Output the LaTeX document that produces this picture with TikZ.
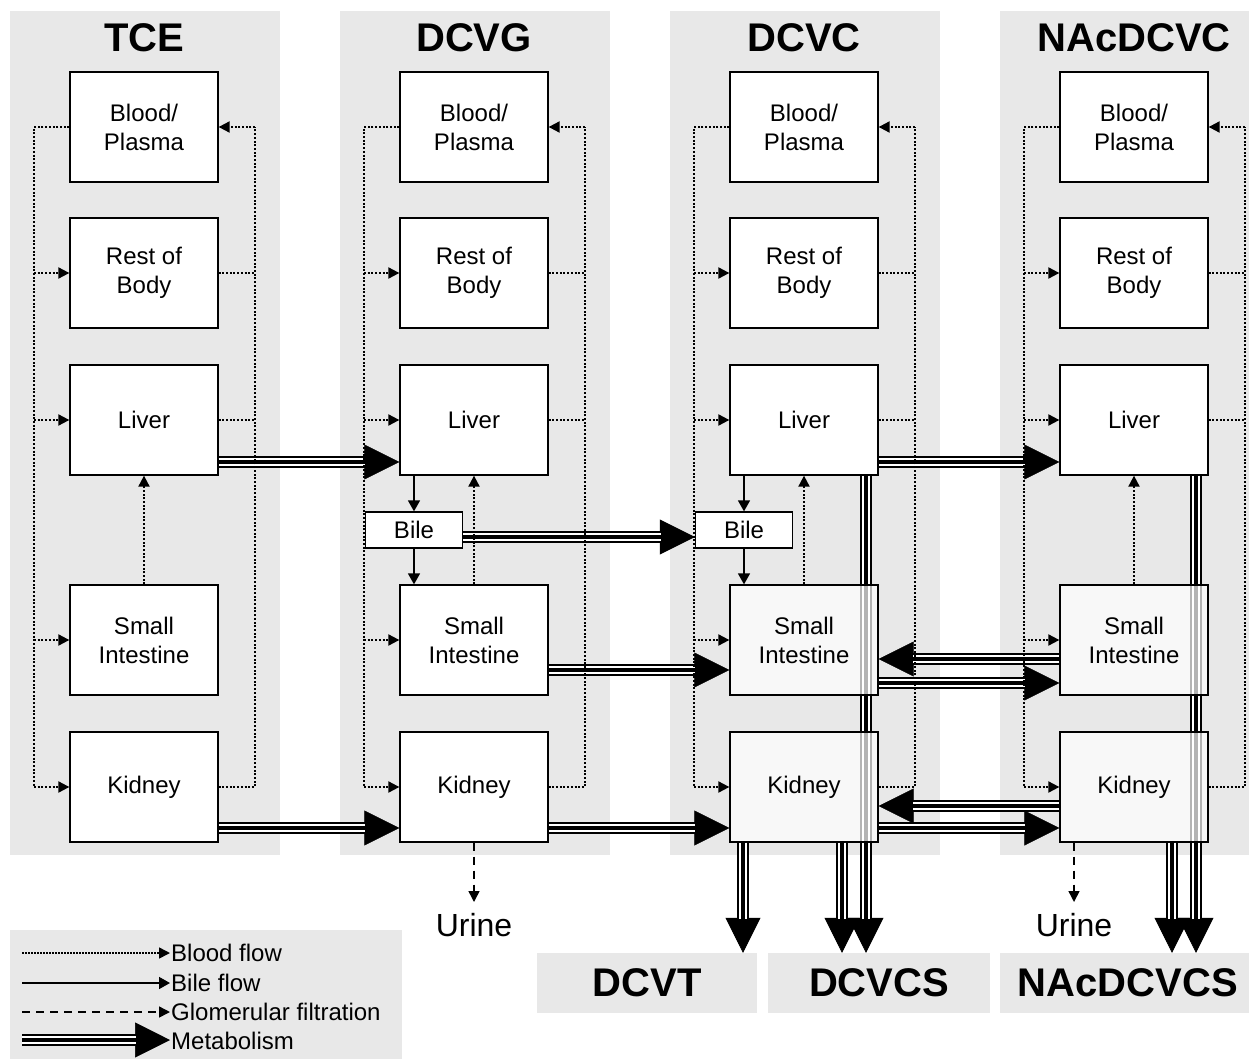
\documentclass[tikz,border=0pt]{standalone}
\usepackage{fontspec}
\setmainfont{Liberation Sans}
\usetikzlibrary{arrows.meta,calc}
\definecolor{panel}{HTML}{E8E8E8}
\begin{document}
\begin{tikzpicture}[x=1pt,y=-1pt,
  box/.style={draw, line width=1.3pt, fill=white, minimum width=148pt, minimum height=110pt, inner sep=0pt, align=center, font=\fontsize{24}{29}\selectfont},
  tbox/.style={box, fill opacity=0.7, text opacity=1},
  bilebox/.style={draw, line width=1.3pt, fill=white, minimum width=97pt, minimum height=36pt, inner sep=0pt, font=\fontsize{24}{29}\selectfont},
  blood/.style={line width=2pt, dash pattern=on 2pt off 1.7pt},
  bloodarr/.style={blood, -{Triangle[length=11pt,width=11pt]}},
  bileflow/.style={line width=1.5pt, -{Triangle[length=11pt,width=12pt]}},
  glom/.style={line width=1.5pt, dash pattern=on 8pt off 6pt, -{Triangle[length=11pt,width=11pt]}},
  metab/.style={line width=12pt, shorten >=34pt,
     preaction={draw, line width=0.5pt, shorten >=0pt, -{Triangle[length=35pt,width=35pt]}},
     postaction={draw=white, line width=8pt, shorten >=34pt},
     postaction={draw=black, line width=4pt, shorten >=34pt}},
  title/.style={font=\fontsize{40}{48}\selectfont\bfseries},
  lab/.style={fill=panel, font=\fontsize{40}{48}\selectfont\bfseries},
  legtxt/.style={anchor=west, inner sep=1pt, font=\fontsize{24}{29}\selectfont},
  urine/.style={inner sep=0pt, font=\fontsize{32}{38}\selectfont}
]
\useasboundingbox (0,0) rectangle (1249,1059);

% panels
\foreach \x in {10,340,670,1000}
  \fill[panel] (\x,11) rectangle ++(270,844);

% bottom labels and legend box
\node[lab, minimum width=220pt, minimum height=60pt] (DCVT) at (647,983) {DCVT};
\node[lab, minimum width=222pt, minimum height=60pt] (DCVCS) at (879,983) {DCVCS};
\node[lab, minimum width=256pt, minimum height=60pt, text width=249pt, align=center] (NAcDCVCS) at (1128,983) {NAcDCVCS};
\node[fill=panel, minimum width=392pt, minimum height=129pt] (legend) at (206,994.5) {};

% titles
\node[title] (t1) at (144,38) {TCE};
\node[title] (t2) at (474,38) {DCVG};
\node[title] (t3) at (804,38) {DCVC};
\node[title] (t4) at (1134,38) {NAcDCVC};

% compartments
\foreach \c/\cx in {1/144,2/474,3/804,4/1134}{
  \node[box] (B\c) at (\cx,127) {Blood/\\Plasma};
  \node[box] (R\c) at (\cx,273) {Rest of\\Body};
  \node[box] (L\c) at (\cx,420) {Liver};
  \coordinate (Lx\c) at (\cx-110,0);
  \coordinate (Rx\c) at (\cx+111,0);
}
\foreach \c/\cx in {1/144,2/474}{
  \node[box] (S\c) at (\cx,640) {Small\\Intestine};
  \node[box] (K\c) at (\cx,787) {Kidney};
}

% long vertical metabolism (behind translucent boxes)
\draw[metab] (L3.south -| 866,0) -- (DCVCS.north -| 866,0);
\draw[metab] (L4.south -| 1196,0) -- (NAcDCVCS.north -| 1196,0);

\foreach \c/\cx in {3/804,4/1134}{
  \node[tbox] (S\c) at (\cx,640) {Small\\Intestine};
  \node[tbox] (K\c) at (\cx,787) {Kidney};
}

% bile compartments
\node[bilebox] (Bi2) at (414,530) {Bile};
\node[bilebox] (Bi3) at (744,530) {Bile};

% metabolism
\draw[metab] (L1.east |- 0,462) -- (L2.west |- 0,462);
\draw[metab] (K1.east |- 0,828) -- (K2.west |- 0,828);
\draw[metab] (Bi2.east |- 0,537) -- (Bi3.west |- 0,537);
\draw[metab] (S2.east |- 0,670) -- (S3.west |- 0,670);
\draw[metab] (K2.east |- 0,828) -- (K3.west |- 0,828);
\draw[metab] (L3.east |- 0,462) -- (L4.west |- 0,462);
\draw[metab] (S4.west |- 0,659) -- (S3.east |- 0,659);
\draw[metab] (S3.east |- 0,683) -- (S4.west |- 0,683);
\draw[metab] (K4.west |- 0,806) -- (K3.east |- 0,806);
\draw[metab] (K3.east |- 0,828) -- (K4.west |- 0,828);
\draw[metab] (K3.south -| 743,0) -- (DCVT.north -| 743,0);
\draw[metab] (K3.south -| 842,0) -- (DCVCS.north -| 842,0);
\draw[metab] (K4.south -| 1172,0) -- (NAcDCVCS.north -| 1172,0);

% blood flow
\foreach \c in {1,2,3,4}{
  \draw[blood] (B\c.west) -- (B\c.west -| Lx\c) -- (K\c.west -| Lx\c);
  \draw[bloodarr] (R\c.west -| Lx\c) -- (R\c.west);
  \draw[bloodarr] (L\c.west -| Lx\c) -- (L\c.west);
  \draw[bloodarr] (S\c.west -| Lx\c) -- (S\c.west);
  \draw[bloodarr] (K\c.west -| Lx\c) -- (K\c.west);
  \draw[blood] (K\c.east) -- (K\c.east -| Rx\c) -- (B\c.east -| Rx\c);
  \draw[bloodarr] (B\c.east -| Rx\c) -- (B\c.east);
  \draw[blood] (R\c.east) -- (R\c.east -| Rx\c);
  \draw[blood] (L\c.east) -- (L\c.east -| Rx\c);
  \draw[bloodarr] (S\c.north) -- (L\c.south);
}

% bile flow
\draw[bileflow] (L2.south -| Bi2) -- (Bi2.north);
\draw[bileflow] (Bi2.south) -- (S2.north -| Bi2);
\draw[bileflow] (L3.south -| Bi3) -- (Bi3.north);
\draw[bileflow] (Bi3.south) -- (S3.north -| Bi3);

% urine
\node[urine, anchor=north] (U2) at (474,913) {Urine};
\node[urine, anchor=north] (U4) at (1074,913) {Urine};
\draw[glom] (K2.south -| U2) -- ([yshift=11pt]U2.north);
\draw[glom] (K4.south -| U4) -- ([yshift=11pt]U4.north);

% legend
\node[legtxt] (lt1) at (170,953) {Blood flow};
\node[legtxt] (lt2) at (170,983) {Bile flow};
\node[legtxt] (lt3) at (170,1012) {Glomerular filtration};
\node[legtxt] (lt4) at (170,1041) {Metabolism};
\coordinate (lc1) at (22,953);
\coordinate (lc2) at (22,983);
\coordinate (lc3) at (22,1012);
\coordinate (lc4) at (22,1040);
\draw[bloodarr, line width=1.5pt, dash pattern=on 1.5pt off 1.5pt] (lc1) -- (lt1.west);
\draw[bileflow] (lc2) -- (lt2.west);
\draw[glom] (lc3) -- (lt3.west);
\draw[metab] (lc4) -- (lt4.west |- lc4);
\end{tikzpicture}
\end{document}
